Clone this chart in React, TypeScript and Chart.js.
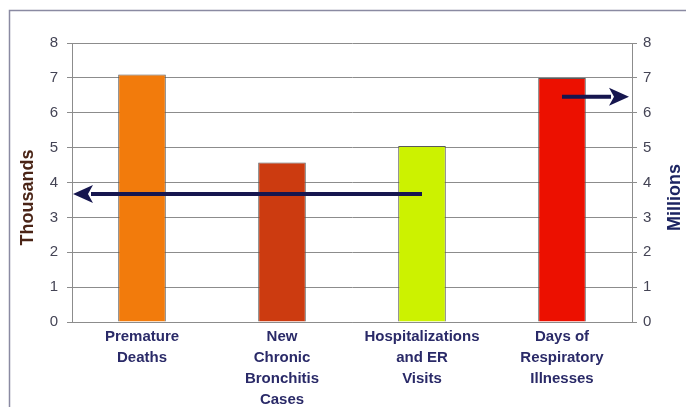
import React, { useEffect, useRef } from "react";
import { Chart, registerables } from "chart.js";

Chart.register(...registerables);

// Health effects, split across two scales
const categories: string[][] = [
  ["Premature", "Deaths"],
  ["New", "Chronic", "Bronchitis", "Cases"],
  ["Hospitalizations", "and ER", "Visits"],
  ["Days of", "Respiratory", "Illnesses"],
];
// cases, in thousands (left axis)
const thousandsValues: (number | null)[] = [7.1, 4.57, 5.05, null];
// days, in millions (right axis)
const millionsValues: (number | null)[] = [null, null, null, 7.0];
const barColors = ["#f27b0c", "#cc3b10", "#ccf200", "#ec1000"];

// Pointer arrows: which bar each starts from, the level it marks, and the axis it points to
const pointerCategories = [2, 3];
const pointerLevels = [3.67, 6.46];
const pointerAxes = ["y", "y1"];

const FONT = "'Liberation Sans', Arial, sans-serif";
const GRID = "#8c8c8c";

const decorPlugin = {
  id: "decor",
  beforeDraw(chart: any) {
    const { ctx, width, height } = chart;
    ctx.save();
    ctx.fillStyle = "#ffffff";
    ctx.fillRect(0, 0, width, height);
    ctx.strokeStyle = "#8a8aa2";
    ctx.lineWidth = 1.5;
    ctx.strokeRect(9.5, 10.5, width + 20, height + 20);
    ctx.restore();
  },
  afterDatasetsDraw(chart: any) {
    const { ctx, chartArea, scales } = chart;
    const xs = scales.x;
    ctx.save();
    ctx.strokeStyle = "#16164f";
    ctx.fillStyle = "#16164f";
    ctx.lineWidth = 4;
    pointerCategories.forEach((cat, i) => {
      const axis = scales[pointerAxes[i]];
      const y = axis.getPixelForValue(pointerLevels[i]);
      const startX = xs.getPixelForValue(cat);
      const toLeft = axis.position === "left";
      const tipX = toLeft ? chartArea.left + 1 : chartArea.right - 3;
      const dir = toLeft ? -1 : 1;
      const headLen = 20;
      const headHalf = 9;
      ctx.beginPath();
      ctx.moveTo(startX, y);
      ctx.lineTo(tipX - dir * (headLen - 2), y);
      ctx.stroke();
      ctx.beginPath();
      ctx.moveTo(tipX, y);
      ctx.lineTo(tipX - dir * headLen, y - headHalf);
      ctx.lineTo(tipX - dir * (headLen - 5), y);
      ctx.lineTo(tipX - dir * headLen, y + headHalf);
      ctx.closePath();
      ctx.fill();
    });
    ctx.restore();
  },
  afterDraw(chart: any) {
    const { ctx, chartArea } = chart;
    const midY = (chartArea.top + chartArea.bottom) / 2 + 15;
    const titles = [
      { text: "Thousands", x: chartArea.left - 44, color: "#4a2416" },
      { text: "Millions", x: chartArea.right + 43, color: "#1c2462" },
    ];
    ctx.save();
    ctx.font = `bold 18px ${FONT}`;
    ctx.textAlign = "center";
    ctx.textBaseline = "middle";
    titles.forEach((t) => {
      ctx.save();
      ctx.translate(t.x, midY);
      ctx.rotate(-Math.PI / 2);
      ctx.fillStyle = t.color;
      ctx.fillText(t.text, 0, 0);
      ctx.restore();
    });
    ctx.restore();
  },
};

export default function App() {
  const canvasRef = useRef<HTMLCanvasElement | null>(null);

  useEffect(() => {
    const canvas = canvasRef.current;
    if (!canvas) return;
    const chart = new Chart(canvas, {
      type: "bar",
      data: {
        labels: categories,
        datasets: [
          {
            label: "Thousands",
            data: thousandsValues,
            yAxisID: "y",
            backgroundColor: barColors,
            borderColor: "#5a5a5a",
            borderWidth: 1,
            grouped: false,
            barPercentage: 0.34,
            categoryPercentage: 1,
          },
          {
            label: "Millions",
            data: millionsValues,
            yAxisID: "y1",
            backgroundColor: barColors,
            borderColor: "#5a5a5a",
            borderWidth: 1,
            grouped: false,
            barPercentage: 0.34,
            categoryPercentage: 1,
          },
        ],
      },
      options: {
        responsive: false,
        animation: false,
        devicePixelRatio: 1,
        layout: { padding: { top: 43, left: 0, right: 0, bottom: 0 } },
        plugins: {
          legend: { display: false },
          tooltip: { enabled: false },
        },
        scales: {
          x: {
            type: "category",
            offset: true,
            grid: { display: false, drawTicks: false },
            border: { display: true, color: GRID, width: 1 },
            ticks: {
              padding: 4,
              maxRotation: 0,
              autoSkip: false,
              color: "#2a2a68",
              font: { family: FONT, size: 15, weight: "bold", lineHeight: 1.4 },
            },
            afterFit(scale: any) {
              scale.height = 85;
            },
          },
          y: {
            position: "left",
            min: 0,
            max: 8,
            ticks: {
              stepSize: 1,
              padding: 9,
              color: "#444455",
              font: { family: FONT, size: 15 },
            },
            grid: { color: GRID, lineWidth: 1, tickLength: 5, drawTicks: true },
            border: { display: true, color: GRID, width: 1 },
            afterFit(scale: any) {
              scale.width = 72;
            },
          },
          y1: {
            position: "right",
            min: 0,
            max: 8,
            ticks: {
              stepSize: 1,
              padding: 6,
              color: "#444455",
              font: { family: FONT, size: 15 },
            },
            grid: { drawOnChartArea: false, color: GRID, tickLength: 5, drawTicks: true },
            border: { display: true, color: GRID, width: 1 },
            afterFit(scale: any) {
              scale.width = 54;
            },
          },
        },
      },
      plugins: [decorPlugin],
    } as any);
    return () => chart.destroy();
  }, []);

  return (
    <div style={{ position: "fixed", left: 0, top: 0, width: 686, height: 407 }}>
      <canvas ref={canvasRef} width={686} height={407} style={{ display: "block" }} />
    </div>
  );
}
